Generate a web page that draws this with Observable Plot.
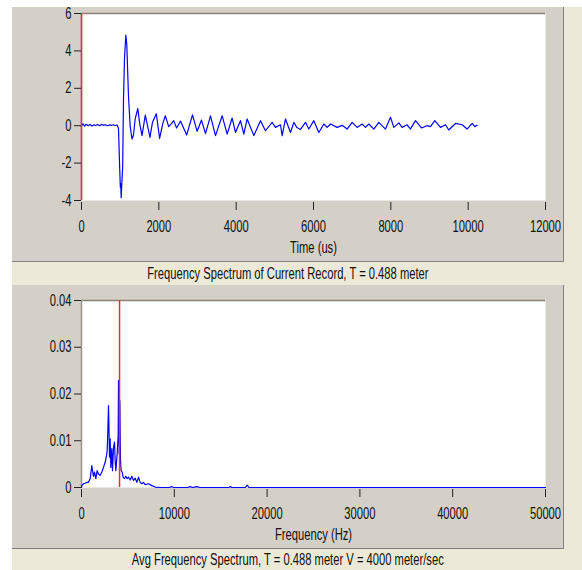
<!DOCTYPE html>
<html><head><meta charset="utf-8">
<script src="https://cdn.jsdelivr.net/npm/d3@7"></script>
<script src="https://cdn.jsdelivr.net/npm/@observablehq/plot@0.6"></script>
<style>
html,body{margin:0;padding:0;background:#fff;}
#page{position:relative;width:582px;height:570px;overflow:hidden;background:#fff;font-family:"Liberation Sans",Arial,sans-serif;}
.bg{position:absolute;left:12px;top:7px;width:570px;height:563px;background:#ece9d8;}
.panel{position:absolute;left:12px;width:552px;background:#d4d0c8;border-right:1px solid #808080;border-bottom:1px solid #808080;box-sizing:border-box;}
.panel svg{position:absolute;left:0;top:0;}
.cap{position:absolute;left:12px;width:551px;text-align:center;font-size:16px;color:#111;line-height:20px;white-space:nowrap;}
.cap span{display:inline-block;transform:scaleX(0.7);transform-origin:center;}
</style>
</head><body>
<div id="page">
  <div class="bg"></div>
  <div class="panel" id="p1" style="top:7px;height:255px;"></div>
  <div class="cap" style="top:264px;"><span id="c1"></span></div>
  <div class="panel" id="p2" style="top:285px;height:264px;"></div>
  <div class="cap" style="top:550px;"><span id="c2"></span></div>
</div>
<script>
// ---- Top panel: time record ----
const timeUs = [0,40,80,120,170,220,270,320,370,420,470,520,570,620,670,720,770,820,870,920,957,985,1005,1015,1026,1045,1065,1086,1112,1147,1172,1215,1258,1305,1345,1388,1457,1500,1565,1650,1707,1770,1836,1935,2020,2100,2168,2255,2320,2385,2460,2560,2720,2870,2991,3103,3207,3336,3465,3638,3767,3896,3982,4111,4198,4284,4457,4629,4758,4930,5016,5146,5189,5275,5405,5491,5570,5664,5793,5879,6008,6138,6267,6353,6439,6612,6741,6870,6999,7129,7258,7344,7431,7560,7689,7862,7991,8077,8207,8292,8422,8508,8637,8792,8939,9025,9137,9284,9413,9499,9672,9844,9973,10103,10172,10232];
const amplitude = [0,0.1,-0.03,0.08,0,0.06,-0.02,0.05,0.01,0.06,0,0.07,0.02,0.05,0,0.04,0.02,0.05,0.01,0.04,-0.15,-2.1,-3.3,-3.1,-3.85,-3.0,-2.2,1.4,3.6,4.85,4.3,1.6,0,-0.71,-0.5,0.36,0.92,0.18,-0.53,0.57,0,-0.62,0.18,0.64,-0.68,0.1,0.53,-0.05,0.1,0.27,-0.12,0.25,-0.5,0.58,-0.3,0.3,-0.42,0.53,-0.53,0.53,-0.45,0.41,-0.36,0.27,-0.45,0.36,-0.53,0.27,-0.27,0.18,-0.09,0.05,-0.53,0.36,-0.36,0.18,-0.1,-0.2,0.18,-0.18,0.27,-0.36,0.09,-0.09,0.09,-0.09,0.02,-0.18,0.18,-0.09,0.09,-0.09,0.09,-0.18,0.18,-0.18,0.45,-0.09,0.15,-0.09,0.05,-0.18,0.27,-0.12,0,-0.05,0.27,-0.09,0.05,-0.23,0.12,0.05,-0.18,0.12,-0.05,0.02];
const timeTicks = [0,2000,4000,6000,8000,10000,12000];
const ampTicks = [-4,-2,0,2,4,6];
const timeMarker = [0];

// ---- Bottom panel: frequency spectrum ----
const freqHz = [0,36,216,395,575,755,934,1114,1186,1293,1401,1545,1689,1832,2012,2191,2371,2550,2694,2766,2838,2910,2946,3017,3089,3161,3269,3341,3449,3556,3628,3700,3844,3951,3987,4059,4131,4203,4275,4383,4490,4634,4778,4921,5065,5245,5424,5604,5784,5963,6143,6322,6502,6681,6861,7220,7580,7939,8500,9500,9700,9900,11400,11700,12000,12400,12800,13300,15900,16050,16200,17650,17850,18050,50000];
const spectrum = [0,0.0004,0.0008,0.0009,0.0011,0.0011,0.0019,0.0047,0.0036,0.0024,0.0033,0.0019,0.0036,0.0029,0.0026,0.0033,0.0043,0.0054,0.0068,0.0079,0.0122,0.0175,0.0143,0.0065,0.0104,0.0043,0.0083,0.0036,0.0086,0.0097,0.0058,0.0036,0.0072,0.0111,0.0229,0.0072,0.0186,0.0058,0.0036,0.0033,0.0022,0.0019,0.0024,0.0019,0.0022,0.0016,0.0024,0.0015,0.0020,0.0011,0.0022,0.0011,0.0008,0.0011,0.0006,0.0008,0.0004,0.0001,0,0,0.0002,0,0,0.0002,0,0.0002,0,0,0,0.0002,0,0,0.0005,0,0];
const freqTicks = [0,10000,20000,30000,40000,50000];
const specTicks = [0,0.01,0.02,0.03,0.04];
const freqMarker = [4100];

const captionTop = "Frequency Spectrum of Current Record, T = 0.488 meter";
const captionBottom = "Avg Frequency Spectrum, T = 0.488 meter V = 4000 meter/sec";
const xLabelTop = "Time (us)";
const xLabelBottom = "Frequency (Hz)";

const FONT = '"Liberation Sans",Arial,sans-serif';
const NARROW = 0.7;
const fmt = d => String(d);

const timeData = timeUs.map((t, i) => ({t, v: amplitude[i]}));
const specData = freqHz.map((f, i) => ({f, a: spectrum[i]}));

function panel({data, xKey, yKey, xDomain, yDomain, xTicks, yTicks, marker, label, height, marginTop, marginBottom}) {
  return Plot.plot({
    width: 551, height, marginLeft: 69, marginRight: 18, marginTop, marginBottom,
    style: {background: "transparent", fontFamily: FONT, fontSize: "16px", color: "#111", overflow: "visible"},
    x: {domain: xDomain}, y: {domain: yDomain},
    marks: [
      Plot.frame({fill: "white", stroke: "none"}),
      Plot.ruleY([yDomain[1]], {stroke: "#8a8276", strokeWidth: 1.5}),
      Plot.ruleX([xDomain[0]], {stroke: "#9a968e", strokeWidth: 1.5}),
      Plot.line(data, {x: xKey, y: yKey, stroke: "#0000ff", strokeWidth: 1.2}),
      Plot.ruleX(marker, {stroke: "#e8312f", strokeWidth: 1.5}),
      Plot.axisX(xTicks, {tickSize: 8, tickPadding: 10, dy: 2, tickFormat: fmt, label: null, stroke: "#222", fontSize: 16}),
      Plot.axisY(yTicks, {tickSize: 7, tickPadding: 3, tickFormat: fmt, label: null, stroke: "#222", fontSize: 16}),
      Plot.text([label], {frameAnchor: "bottom", dy: 52, fontSize: 16, fill: "#111"})
    ]
  });
}

function narrowText(svg) {
  svg.querySelectorAll("text").forEach(t => {
    const L = t.getComputedTextLength();
    if (L > 0) {
      t.setAttribute("textLength", (L * NARROW).toFixed(2));
      t.setAttribute("lengthAdjust", "spacingAndGlyphs");
    }
  });
}

const s1 = panel({
  data: timeData, xKey: "t", yKey: "v", xDomain: [0, 12000], yDomain: [-4, 6],
  xTicks: timeTicks, yTicks: ampTicks, marker: timeMarker, label: xLabelTop,
  height: 253, marginTop: 6, marginBottom: 60
});
document.getElementById("p1").appendChild(s1);
narrowText(s1);
const s2 = panel({
  data: specData, xKey: "f", yKey: "a", xDomain: [0, 50000], yDomain: [0, 0.04],
  xTicks: freqTicks, yTicks: specTicks, marker: freqMarker, label: xLabelBottom,
  height: 263, marginTop: 15, marginBottom: 61
});
document.getElementById("p2").appendChild(s2);
narrowText(s2);
document.getElementById("c1").textContent = captionTop;
document.getElementById("c2").textContent = captionBottom;
</script>
</body></html>
